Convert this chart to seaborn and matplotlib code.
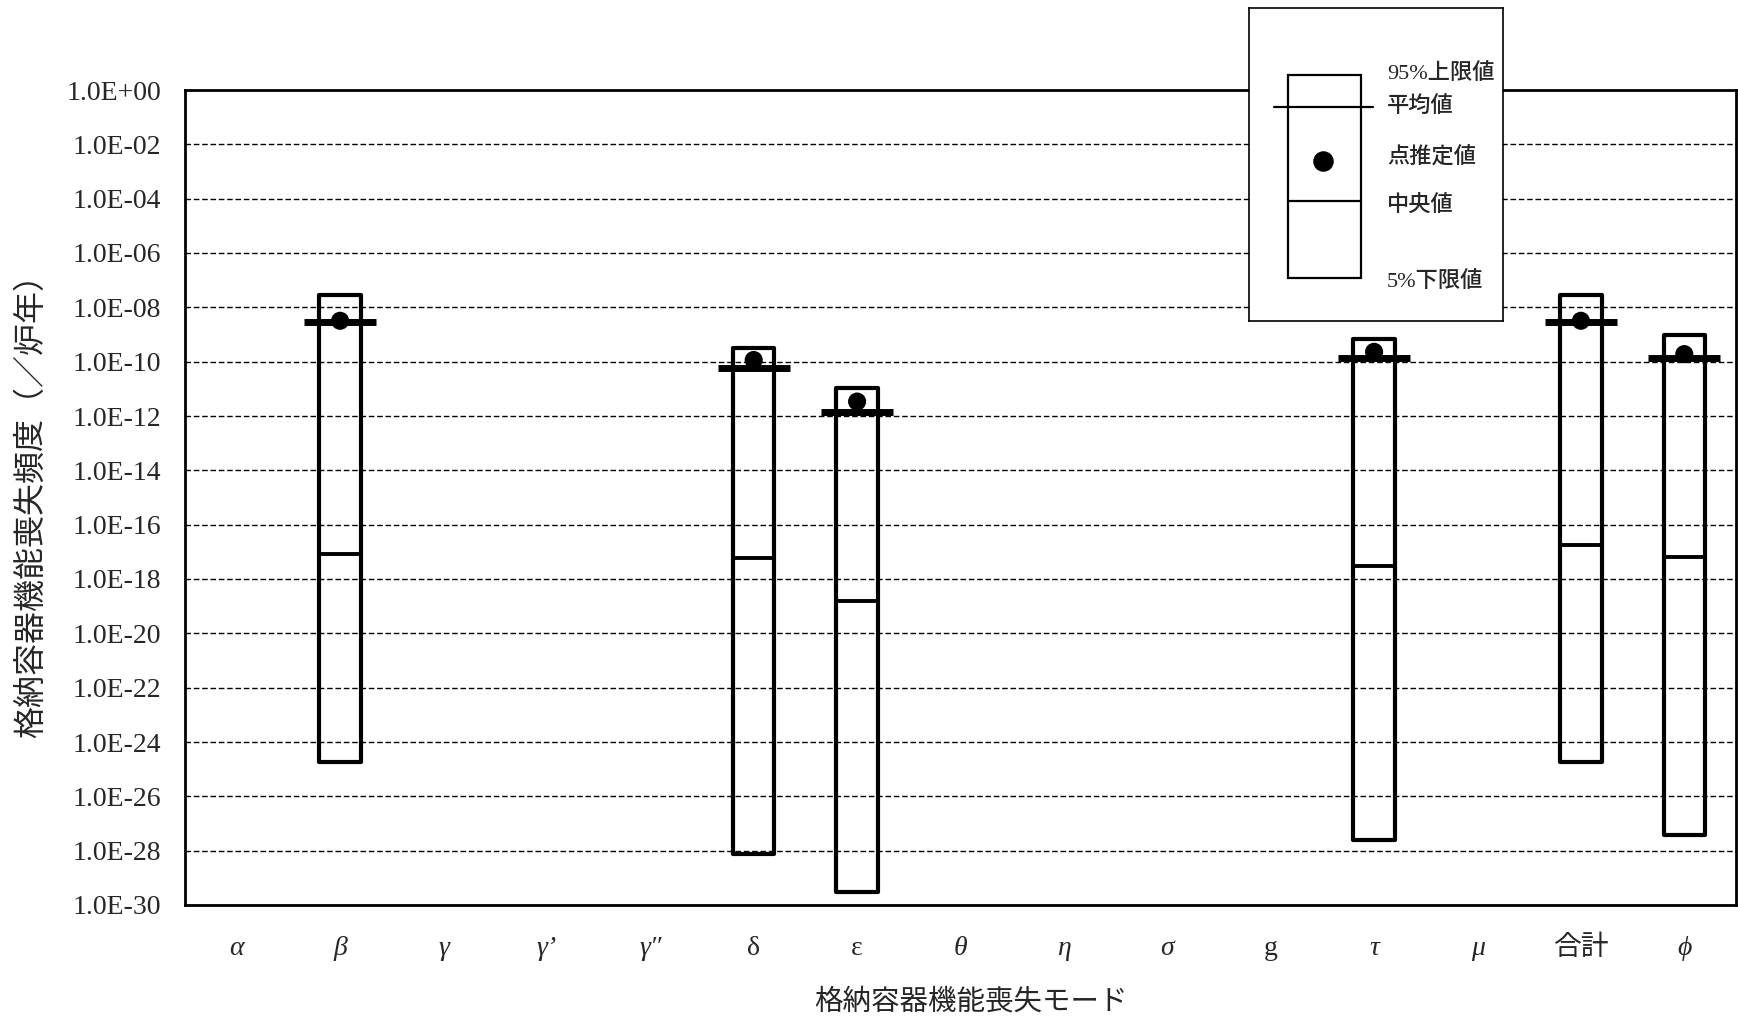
import numpy as np
import pandas as pd
import matplotlib.pyplot as plt
import matplotlib.patches as mpatches
import seaborn as sns

# Containment failure modes and frequency (/reactor-year)
modes = ["α", "β", "γ", "γ’", "γ″", "δ", "ε", "θ", "η", "σ", "g", "τ", "μ", "合計", "ϕ"]
nan = np.nan
upper95 = [nan, 2.9e-8, nan, nan, nan, 3.1e-10, 1.05e-11, nan, nan, nan, nan, 6.7e-10, nan, 2.8e-8, 9.6e-10]
mean_val = [nan, 2.8e-9, nan, nan, nan, 6.0e-11, 1.45e-12, nan, nan, nan, nan, 1.4e-10, nan, 2.8e-9, 1.4e-10]
point_est = [nan, 3.2e-9, nan, nan, nan, 1.15e-10, 3.4e-12, nan, nan, nan, nan, 2.3e-10, nan, 3.2e-9, 1.9e-10]
median_val = [nan, 8.0e-18, nan, nan, nan, 5.8e-18, 1.5e-19, nan, nan, nan, nan, 3.0e-18, nan, 1.8e-17, 6.6e-18]
lower5 = [nan, 1.9e-25, nan, nan, nan, 7.4e-29, 3.1e-30, nan, nan, nan, nan, 2.5e-28, nan, 1.9e-25, 3.8e-28]

yticks = [10.0 ** -k for k in range(0, 31, 2)]
ytick_labels = ["1.0E+00"] + ["1.0E-%02d" % k for k in range(2, 31, 2)]
italic_modes = {"α", "β", "γ", "γ’", "γ″", "θ", "η", "σ", "τ", "μ", "ϕ"}

df = pd.DataFrame({"mode": modes, "pos": np.arange(len(modes)),
                   "upper": upper95, "mean": mean_val, "point": point_est,
                   "median": median_val, "lower": lower5})
valid = df.dropna()

sns.set_theme(style="white")
plt.rcParams["font.family"] = ["Liberation Serif", "DejaVu Serif", "Noto Sans CJK JP"]

fig = plt.figure(figsize=(17.38, 10.16), dpi=100)
ax = fig.add_axes([185 / 1738, 1 - 905 / 1016, (1736 - 185) / 1738, (905 - 90) / 1016])

# 5%-95% boxes
ax.bar(valid["pos"], valid["upper"] - valid["lower"], bottom=valid["lower"], width=0.4,
       fill=False, edgecolor="black", linewidth=3, joinstyle="round", zorder=3)
# medians
ax.hlines(valid["median"], valid["pos"] - 0.2, valid["pos"] + 0.2, color="black", linewidth=2.8, zorder=4)
# point estimates
sns.scatterplot(data=valid, x="pos", y="point", color="black", s=170, edgecolor="none", ax=ax, zorder=5)
# means
ax.hlines(valid["mean"], valid["pos"] - 0.35, valid["pos"] + 0.35, color="black", linewidth=5, zorder=6)

ax.set_yscale("log")
ax.set_ylim(1e-30, 1)
ax.set_xlim(-0.5, len(modes) - 0.5)
ax.set_yticks(yticks)
ax.set_yticklabels(ytick_labels, fontsize=20)
ax.minorticks_off()
ax.tick_params(axis="y", length=0, pad=17)
ax.yaxis.grid(True, linestyle=(0, (4, 2)), color="black", linewidth=1)

ax.set_xticks(np.arange(len(modes)))
ax.set_xticklabels(modes, fontsize=20)
for lab in ax.get_xticklabels():
    if lab.get_text() in italic_modes:
        lab.set_style("italic")
ax.set_xticks(np.arange(len(modes) + 1) - 0.5, minor=True)
ax.tick_params(axis="x", which="major", length=0, pad=22)
ax.tick_params(axis="x", which="minor", length=8, width=1.5, direction="out", color="black")

for side in ["left", "right", "top", "bottom"]:
    ax.spines[side].set_color("black")
    ax.spines[side].set_linewidth(2)

ax.set_xlabel("格納容器機能喪失モード", fontsize=20.5, family=["Noto Sans CJK JP"], labelpad=18)
ax.xaxis.label.set_x(0.507)
ax.set_ylabel("格納容器機能喪失頻度（／炉年）", fontsize=23, family=["Noto Sans CJK JP"], labelpad=14)

# explanatory key (schematic box)
lg = fig.add_axes([1249 / 1738, 1 - 321 / 1016, 254 / 1738, 313 / 1016], zorder=10)
lg.set_xlim(0, 1)
lg.set_ylim(0, 1)
lg.set_xticks([])
lg.set_yticks([])
lg.set_facecolor("white")
for side in lg.spines.values():
    side.set_color("black")
    side.set_linewidth(1.2)
lg.add_patch(mpatches.Rectangle((0.154, 0.137), 0.287, 0.649, fill=False, edgecolor="black", linewidth=1.6))
lg.plot([0.098, 0.488], [0.684, 0.684], color="black", linewidth=1.6)
lg.plot([0.154, 0.441], [0.383, 0.383], color="black", linewidth=1.6)
lg.scatter([0.291], [0.511], s=190, color="black")
key_font = ["Liberation Serif", "Noto Sans CJK JP"]
for ty, txt in zip([0.792, 0.684, 0.524, 0.371, 0.125], ["95%上限値", "平均値", "点推定値", "中央値", "5%下限値"]):
    lg.text(0.543, ty, txt, fontsize=16, va="center", ha="left", family=key_font, fontweight="medium")

plt.savefig("out.png", dpi=100)
